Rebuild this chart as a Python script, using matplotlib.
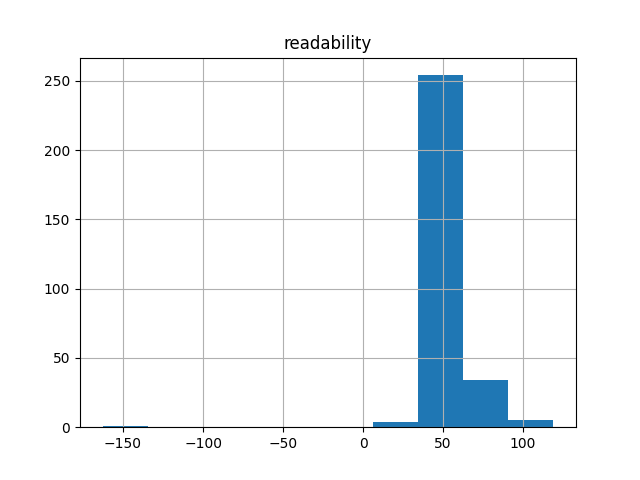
import numpy as np
import matplotlib
matplotlib.use("Agg")
import matplotlib.pyplot as plt

# histogram of readability scores, 10 equal bins
bin_lo = -162.8
bin_hi = 119.0
counts = [1, 0, 0, 0, 0, 0, 4, 254, 34, 5]

edges = np.linspace(bin_lo, bin_hi, len(counts) + 1)
centers = (edges[:-1] + edges[1:]) / 2

fig, ax = plt.subplots(figsize=(6.4, 4.8), dpi=100)
ax.hist(centers, bins=edges, weights=counts)
ax.grid(True)
ax.set_title("readability")

fig.savefig("out.png")
